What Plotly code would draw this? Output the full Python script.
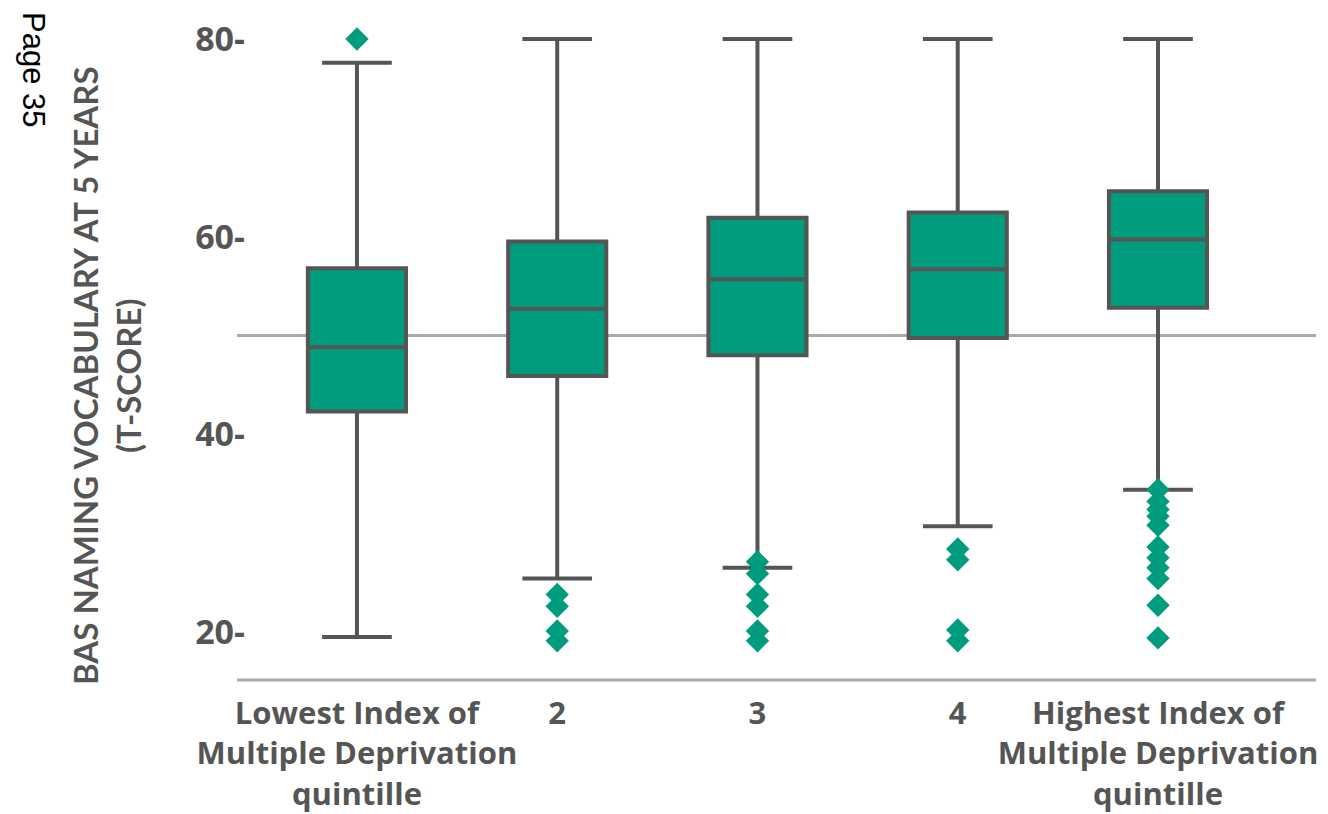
import plotly.graph_objects as go

categories = ["Lowest Index of<br>Multiple Deprivation<br>quintille", "2", "3", "4",
              "Highest Index of<br>Multiple Deprivation<br>quintille"]
q1 = [42.3, 45.9, 48.0, 49.75, 52.8]
median = [48.8, 52.7, 55.7, 56.7, 59.7]
q3 = [56.8, 59.5, 61.9, 62.45, 64.6]
lower_fence = [19.5, 25.4, 26.5, 30.7, 34.4]
upper_fence = [77.6, 80.0, 80.0, 80.0, 80.0]
outliers = [
    [80.0],
    [23.8, 22.6, 20.1, 19.1],
    [27.1, 25.9, 23.8, 22.6, 20.1, 19.1],
    [28.4, 27.3, 20.2, 19.1],
    [34.4, 33.2, 32.4, 31.7, 30.8, 28.6, 27.5, 26.5, 25.4, 22.7, 19.4],
]
y_ticks = [20, 40, 60, 80]
y_ticktext = ["20-", "40-", "60-", "80-"]
reference_value = 50

TEAL = "#009c7e"
DARK = "#555555"
LIGHT = "#aaaaaa"

# page has an 8px body margin; figure sized to fit the window
W, H = 1320, 806
ML, MR, MT, MB = 238, 12, 12, 134
Y_RANGE = [15.14, 81.92]
X_RANGE = [-0.554, 4.789]

fig = go.Figure()
for i, c in enumerate(categories):
    fig.add_trace(go.Box(
        x=[c], q1=[q1[i]], median=[median[i]], q3=[q3[i]],
        lowerfence=[lower_fence[i]], upperfence=[upper_fence[i]],
        boxpoints=False, width=0.49, whiskerwidth=0.71,
        fillcolor=TEAL, line=dict(color=DARK, width=4),
        showlegend=False, hoverinfo="skip",
    ))

ox, oy = [], []
for c, vals in zip(categories, outliers):
    for v in vals:
        ox.append(c)
        oy.append(v)
fig.add_trace(go.Scatter(
    x=ox, y=oy, mode="markers",
    marker=dict(symbol="diamond", size=18, color=TEAL, line=dict(width=0)),
    showlegend=False, hoverinfo="skip",
))

plot_h = H - MT - MB
plot_w = W - ML - MR
x_left_paper = -9 / plot_w
ref_paper = (reference_value - Y_RANGE[0]) / (Y_RANGE[1] - Y_RANGE[0])

fig.add_shape(type="line", xref="paper", yref="paper", x0=x_left_paper, x1=1,
              y0=ref_paper, y1=ref_paper, line=dict(color=LIGHT, width=3), layer="below")
fig.add_shape(type="line", xref="paper", yref="paper", x0=x_left_paper, x1=1,
              y0=0, y1=0, line=dict(color=LIGHT, width=3), layer="below")

fig.add_annotation(
    text="BAS NAMING VOCABULARY AT 5 YEARS<br>(T-SCORE)",
    xref="paper", yref="paper", x=(107 - 246) / plot_w, y=(680 - 376) / plot_h,
    xanchor="center", yanchor="middle", textangle=-90, showarrow=False,
    font=dict(family="Lato", size=33, color=DARK, weight="bold"),
)
fig.add_annotation(
    text="Page 35",
    xref="paper", yref="paper", x=(34 - 246) / plot_w, y=(680 - 70) / plot_h,
    xanchor="center", yanchor="middle", textangle=90, showarrow=False,
    font=dict(family="Liberation Sans", size=31, color="black"),
)

fig.update_layout(
    width=W, height=H,
    margin=dict(l=ML, r=MR, t=MT, b=MB),
    paper_bgcolor="white", plot_bgcolor="white",
    xaxis=dict(
        type="category", range=X_RANGE, showgrid=False, zeroline=False, showline=False,
        ticks="", automargin=False,
        tickfont=dict(family="Open Sans", size=31, color=DARK, weight="bold"),
        ticklabelstandoff=12,
    ),
    yaxis=dict(
        range=Y_RANGE, showgrid=False, zeroline=False, showline=False, ticks="",
        automargin=False,
        tickvals=y_ticks, ticktext=y_ticktext,
        tickfont=dict(family="Open Sans", size=34, color=DARK, weight="bold"),
        ticklabelstandoff=0,
    ),
)

fig.write_html("out.html")
